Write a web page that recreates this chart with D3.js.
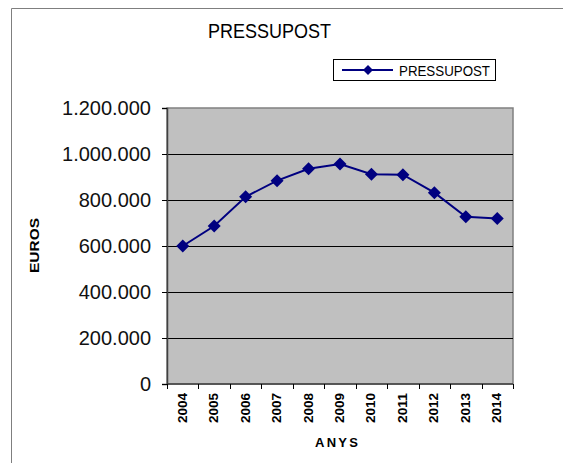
<!DOCTYPE html>
<html>
<head>
<meta charset="utf-8">
<script src="https://cdn.jsdelivr.net/npm/d3@7"></script>
<style>
  body { margin: 0; background: #fff; }
  svg { display: block; font-family: Arial, "Liberation Sans", sans-serif; }
</style>
</head>
<body>
<svg id="chart-root" width="563" height="463"></svg>
<script>
// data
const years = ['2004', '2005', '2006', '2007', '2008', '2009', '2010', '2011', '2012', '2013', '2014'];
const pressupost = [600000, 687000, 814000, 884000, 936000, 956000, 912000, 910000, 832000, 727000, 720000];
const yTicks = [0, 200000, 400000, 600000, 800000, 1000000, 1200000];

const svg = d3.select('#chart-root');

// plot area
const plotLeft = 167, plotRight = 513, plotTop = 108, plotBottom = 384;

const x = d3.scaleBand().domain(years).range([plotLeft, plotRight]).padding(0);
const y = d3.scaleLinear().domain([0, 1200000]).range([plotBottom, plotTop]);

const fmt = d3.formatLocale({ decimal: ',', thousands: '.', grouping: [3], currency: ['', '€'] }).format(',');

// outer frame (cut off by the window)
svg.append('path')
    .attr('d', 'M11.5,470 V8.5 H570')
    .attr('fill', 'none')
    .attr('stroke', '#7f7f7f')
    .attr('stroke-width', 1);

// title
svg.append('text')
    .attr('x', 208).attr('y', 38)
    .attr('font-size', 21)
    .attr('textLength', 123).attr('lengthAdjust', 'spacingAndGlyphs')
    .attr('fill', '#000')
    .text('PRESSUPOST');

// grey plot background
svg.append('rect')
    .attr('x', plotLeft).attr('y', plotTop)
    .attr('width', plotRight - plotLeft).attr('height', plotBottom - plotTop)
    .attr('fill', '#c0c0c0')
    .attr('stroke', '#808080')
    .attr('stroke-width', 1.5);

// gridlines
svg.append('g')
    .selectAll('line')
    .data(yTicks.filter(d => d > 0 && d < 1200000))
    .join('line')
    .attr('x1', plotLeft).attr('x2', plotRight)
    .attr('y1', d => Math.round(y(d)) + 0.5).attr('y2', d => Math.round(y(d)) + 0.5)
    .attr('stroke', '#000')
    .attr('stroke-width', 1);

// y axis
const yAxis = svg.append('g')
    .attr('transform', `translate(${plotLeft},0)`)
    .call(d3.axisLeft(y).tickValues(yTicks).tickFormat(fmt).tickSize(5).tickPadding(11));
yAxis.select('.domain').attr('stroke', '#404040').attr('stroke-width', 1.5);
yAxis.selectAll('.tick line').attr('stroke', '#000');
yAxis.selectAll('.tick text')
    .attr('font-size', 20)
    .attr('font-family', 'Arial, "Liberation Sans", sans-serif')
    .attr('fill', '#111');

// x axis: ticks between categories
const xBounds = years.map(d => x(d)).concat([plotRight]);
svg.append('line')
    .attr('x1', plotLeft).attr('x2', plotRight)
    .attr('y1', plotBottom).attr('y2', plotBottom)
    .attr('stroke', '#404040').attr('stroke-width', 1.5);
svg.append('g')
    .selectAll('line')
    .data(xBounds)
    .join('line')
    .attr('x1', d => Math.round(d) + 0.5).attr('x2', d => Math.round(d) + 0.5)
    .attr('y1', plotBottom).attr('y2', plotBottom + 5)
    .attr('stroke', '#000');

svg.append('g')
    .selectAll('text')
    .data(years)
    .join('text')
    .attr('transform', d => `translate(${x(d) + x.bandwidth() / 2 + 4},393) rotate(-90)`)
    .attr('text-anchor', 'end')
    .attr('font-size', 12)
    .attr('font-weight', 'bold')
    .attr('textLength', 30).attr('lengthAdjust', 'spacingAndGlyphs')
    .text(d => d);

// axis titles
svg.append('text')
    .attr('x', 315).attr('y', 447)
    .attr('font-size', 13).attr('font-weight', 'bold')
    .attr('textLength', 43).attr('lengthAdjust', 'spacing')
    .text('ANYS');

svg.append('text')
    .attr('transform', 'translate(39,273) rotate(-90)')
    .attr('font-size', 13).attr('font-weight', 'bold')
    .attr('textLength', 55).attr('lengthAdjust', 'spacingAndGlyphs')
    .text('EUROS');

// series
const line = d3.line()
    .x((d, i) => x(years[i]) + x.bandwidth() / 2)
    .y(d => y(d));

svg.append('path')
    .datum(pressupost)
    .attr('d', line)
    .attr('fill', 'none')
    .attr('stroke', '#000080')
    .attr('stroke-width', 2);

const diamond = 'M0,-6.5 L6.5,0 L0,6.5 L-6.5,0 Z';
svg.append('g')
    .selectAll('path')
    .data(pressupost)
    .join('path')
    .attr('transform', (d, i) => `translate(${x(years[i]) + x.bandwidth() / 2},${y(d)})`)
    .attr('d', diamond)
    .attr('fill', '#000080');

// legend
const legend = svg.append('g').attr('transform', 'translate(333,59)');
legend.append('rect')
    .attr('x', 0.5).attr('y', 0.5)
    .attr('width', 162).attr('height', 21)
    .attr('fill', '#fff')
    .attr('stroke', '#000').attr('stroke-width', 1);
legend.append('line')
    .attr('x1', 9).attr('x2', 60)
    .attr('y1', 11).attr('y2', 11)
    .attr('stroke', '#000080').attr('stroke-width', 2);
legend.append('path')
    .attr('transform', 'translate(35,11)')
    .attr('d', 'M0,-5 L5,0 L0,5 L-5,0 Z')
    .attr('fill', '#000080');
legend.append('text')
    .attr('x', 66).attr('y', 16.5)
    .attr('font-size', 15)
    .attr('textLength', 91).attr('lengthAdjust', 'spacingAndGlyphs')
    .text('PRESSUPOST');
</script>
</body>
</html>
